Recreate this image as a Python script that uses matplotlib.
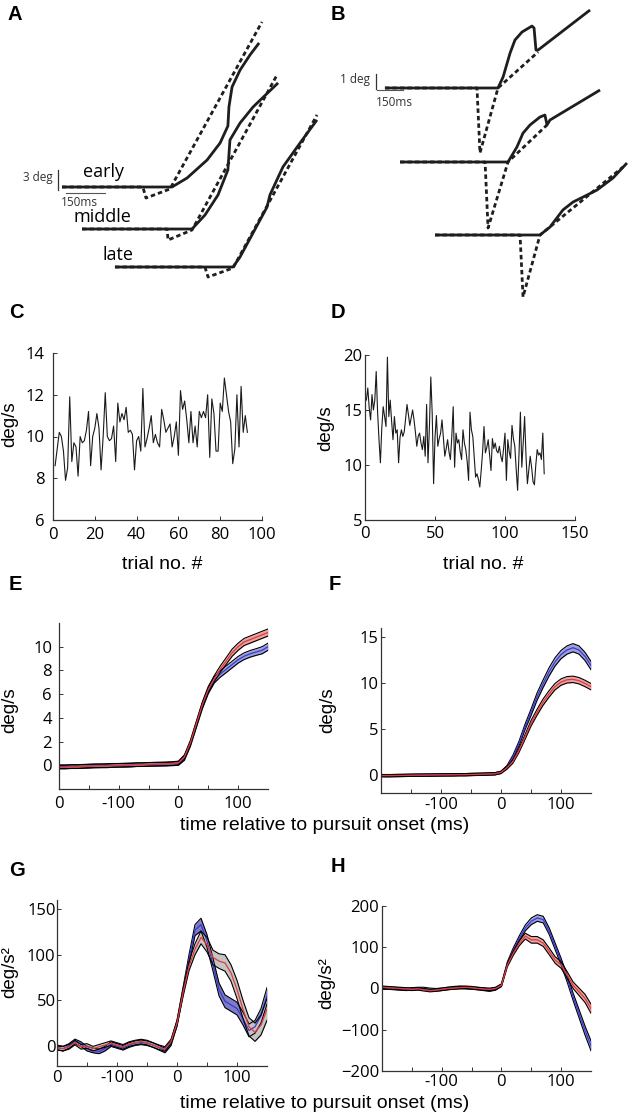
import numpy as np
import matplotlib
matplotlib.use('Agg')
import matplotlib.pyplot as plt

plt.rcParams['font.family'] = ['Liberation Sans', 'DejaVu Sans']

# ---------------- data ----------------
# Panel A: eye (solid) and target-like (dashed) position traces, ms / deg relative to pursuit onset
A_early_solid_t = [-423, 0, 58, 135, 185, 215, 219, 231, 262, 300, 335]
A_early_solid_d = [0, 0, 1.35, 4.05, 6.6, 9.15, 12.0, 15.0, 17.55, 19.8, 21.6]
A_early_dash_t = [-423, -112, -100, -8, 346]
A_early_dash_d = [0, 0, -1.65, -0.3, 24.75]
A_middle_solid_t = [-423, 0, 50, 100, 138, 146, 185, 235, 331]
A_middle_solid_d = [0, 0, 2.1, 5.1, 8.85, 13.35, 15.9, 18.3, 21.9]
A_middle_dash_t = [-423, -96, -92, 0, 327]
A_middle_dash_d = [0, 0, -1.65, -0.15, 23.1]
A_late_solid_t = [-454, 0, 27, 77, 131, 142, 192, 258, 323]
A_late_solid_d = [0, 0, 1.5, 5.1, 9.0, 10.8, 15.0, 18.6, 22.05]
A_late_dash_t = [-454, -108, -96, 0, 323]
A_late_dash_d = [0, 0, -1.5, -0.15, 22.8]
A_labels = ['early', 'middle', 'late']

# Panel B
B1_solid_t = [-646, 0, 29, 69, 97, 137, 194, 206, 217, 229, 526]
B1_solid_d = [0, 0, 0.73, 2.33, 3.2, 3.73, 4.13, 4.0, 2.53, 2.53, 5.2]
B1_dash_t = [-646, -120, -103, 0, 229]
B1_dash_d = [0, 0, -4.33, 0, 2.4]
B2_solid_t = [-617, 0, 51, 86, 126, 183, 211, 223, 240, 526]
B2_solid_d = [0, 0, 1.0, 1.93, 2.47, 3.0, 3.13, 2.47, 2.8, 4.8]
B2_dash_t = [-617, -131, -114, 0, 223]
B2_dash_d = [0, 0, -4.4, 0, 2.47]
B3_solid_t = [-600, 0, 57, 131, 189, 246, 326, 417, 497]
B3_solid_d = [0, 0, 0.53, 1.67, 2.2, 2.53, 3.0, 3.8, 4.8]
B3_dash_t = [-600, -114, -97, 0, 474]
B3_dash_d = [0, 0, -4.13, 0, 4.53]

# Panel C: peak velocity per trial
C_vel = [8.6, 9.4, 10.2, 10.0, 9.3, 7.9, 8.5, 11.9, 8.8, 9.7, 9.5, 8.1, 10.0, 9.7, 9.8,
         10.3, 11.2, 8.6, 10.0, 10.4, 11.1, 10.4, 8.4, 10.0, 12.1, 10.0, 9.8, 9.9, 10.5, 8.8,
         11.6, 10.7, 11.1, 10.8, 11.4, 10.2, 10.3, 10.1, 8.4, 9.8, 10.0, 9.3, 12.3, 9.5, 9.9,
         10.4, 11.0, 9.7, 10.1, 9.7, 9.5, 11.3, 10.8, 10.2, 10.4, 10.6, 9.5, 10.0, 10.7, 9.1,
         12.2, 11.3, 11.7, 10.8, 9.7, 11.2, 9.7, 10.5, 9.5, 11.2, 10.9, 11.2, 10.9, 12.0, 9.0,
         11.8, 11.1, 9.3, 9.3, 11.6, 11.2, 12.8, 12.0, 11.2, 10.7, 8.7, 9.4, 12.0, 9.5, 12.4,
         10.2, 11.0, 10.2]
# Panel D
D_vel = [15.9, 17.0, 15.2, 14.1, 16.4, 15.0, 15.9, 18.5, 14.8, 12.3, 10.2, 13.4, 15.3, 14.4, 13.5,
         19.8, 14.4, 15.9, 14.0, 12.3, 14.4, 12.9, 13.2, 10.2, 12.5, 13.2, 12.6, 13.0, 14.2, 15.5,
         14.6, 13.6, 14.3, 15.0, 14.1, 13.0, 11.7, 12.6, 12.9, 12.0, 11.4, 12.6, 10.8, 15.5, 10.2,
         13.4, 18.0, 14.7, 8.3, 12.5, 14.5, 11.7, 12.4, 12.9, 14.1, 12.5, 10.8, 11.5, 12.3, 11.2,
         10.5, 12.6, 15.3, 9.8, 12.9, 12.0, 12.3, 11.2, 10.5, 13.2, 12.0, 11.4, 10.3, 8.6, 14.8,
         13.2, 12.6, 10.8, 8.9, 9.2, 8.7, 8.0, 9.5, 11.2, 13.5, 11.1, 11.6, 12.3, 10.9, 9.5,
         12.4, 11.5, 12.0, 11.3, 11.1, 11.7, 10.8, 10.3, 11.5, 12.9, 8.6, 12.3, 11.2, 10.6, 13.6,
         12.4, 11.7, 9.6, 7.7, 11.0, 14.8, 9.8, 12.0, 14.4, 10.8, 8.3, 9.6, 10.8, 9.8, 8.5,
         8.2, 10.0, 11.4, 10.9, 11.1, 10.5, 12.9, 9.2]

# Panels E-H: time (ms) relative to pursuit onset
t_ms = [-200, -190, -180, -170, -160, -150, -140, -130, -120, -110, -100, -90, -80, -70, -60,
        -50, -40, -30, -20, -10, 0, 10, 20, 30, 40, 50, 60, 70, 80, 90, 100, 110, 120, 130, 140, 150]

E_red = [-0.15, -0.15, -0.12, -0.12, -0.1, -0.08, -0.05, -0.05, -0.05, -0.02, 0.0, 0.0, 0.02, 0.05,
         0.05, 0.08, 0.1, 0.1, 0.12, 0.15, 0.2, 0.7, 1.9, 3.5, 5.1, 6.4, 7.3, 8.1, 8.8, 9.5, 10.0,
         10.4, 10.6, 10.8, 11.0, 11.2]
E_blue = [-0.12, -0.12, -0.1, -0.1, -0.08, -0.06, -0.05, -0.04, -0.02, 0.0, 0.0, 0.02, 0.03, 0.05,
          0.06, 0.08, 0.08, 0.1, 0.1, 0.12, 0.15, 0.6, 1.8, 3.4, 5.0, 6.3, 7.2, 7.7, 8.1, 8.5, 8.9,
          9.2, 9.4, 9.55, 9.7, 10.0]
E_red_se = [0.15] * 20 + [0.15, 0.18, 0.2, 0.22, 0.24, 0.25, 0.26, 0.27, 0.28, 0.3, 0.3, 0.3,
                          0.3, 0.3, 0.3, 0.3]
E_blue_se = [0.15] * 20 + [0.15, 0.18, 0.2, 0.22, 0.24, 0.25, 0.26, 0.27, 0.28, 0.28, 0.28,
                           0.28, 0.28, 0.28, 0.3, 0.3]

F_red = [-0.1, -0.1, -0.1, -0.08, -0.08, -0.06, -0.05, -0.05, -0.04, -0.03, -0.02, -0.02, -0.01,
         0.0, 0.0, 0.02, 0.03, 0.05, 0.08, 0.1, 0.25, 0.75, 1.45, 2.65, 4.1, 5.6, 6.8, 7.9, 8.8,
         9.6, 10.1, 10.35, 10.4, 10.25, 9.95, 9.6]
F_blue = [-0.1, -0.12, -0.1, -0.1, -0.08, -0.07, -0.06, -0.05, -0.05, -0.04, -0.03, -0.02, -0.02,
          0.0, 0.0, 0.02, 0.04, 0.05, 0.08, 0.1, 0.25, 0.85, 1.95, 3.4, 5.2, 6.8, 8.5, 9.9, 11.2,
          12.3, 13.1, 13.6, 13.85, 13.6, 12.9, 11.9]
F_red_se = [0.12] * 20 + [0.12, 0.15, 0.18, 0.22, 0.26, 0.3, 0.32, 0.34, 0.35, 0.35, 0.35, 0.35,
                          0.35, 0.35, 0.35, 0.35]
F_blue_se = [0.12] * 20 + [0.12, 0.15, 0.2, 0.25, 0.3, 0.35, 0.4, 0.42, 0.45, 0.45, 0.45, 0.45,
                           0.45, 0.45, 0.45, 0.45]

G_red = [-1.5, -3, -1, 3.7, -1, 0, -3, -1, 1, 3, 1, -1, 2, 3.7, 4.8, 3.7, 1, -1.5, -3.3, 4.8,
         25, 58, 87.5, 106, 119, 111, 97, 93, 91, 80, 62, 40, 21, 15, 23, 40]
G_blue = [-2, -3, 0, 5, 2, -3, -5, -6, -3, 2, 0, -2, 1, 3, 4, 3, 1, -2, -5, 3,
          25, 60, 95, 127, 133, 115, 89, 62, 49, 45, 41, 30, 17, 21, 33, 55]
G_red_se = [2.5] * 20 + [3, 4, 5, 6, 7, 8, 8, 8, 9, 9, 10, 10, 10, 10, 11, 12]
G_blue_se = [2.5] * 20 + [3, 4, 5, 6, 7, 7, 7, 7, 7, 7, 7, 7, 7, 7, 8, 9]

H_red = [3, 2, 1, 0, -1, -2, -1, -3, -5, -4, -2, 0, 1, 2, 3, 2, 0, -1, -2, 0,
         8, 57, 86, 110, 127, 118, 118, 110, 90, 69, 57, 33, 8, -8, -24, -49]
H_blue = [2, 1, 0, -1, -2, -1, 0, 0, -2, -3, -2, 0, 2, 3, 2, 1, 0, -2, -4, -1,
          8, 61, 94, 122, 147, 163, 171, 167, 139, 102, 65, 24, -20, -61, -102, -139]
H_red_se = [3] * 20 + [3, 4, 5, 6, 7, 8, 8, 8, 8, 8, 8, 8, 8, 9, 10, 11]
H_blue_se = [3] * 20 + [3, 4, 5, 6, 7, 8, 8, 8, 8, 8, 8, 8, 9, 10, 11, 12]

# ---------------- figure ----------------
W, H = 630, 1119
fig = plt.figure(figsize=(W / 100, H / 100), dpi=100)

ov = fig.add_axes([0, 0, 1, 1])
ov.set_xlim(0, W)
ov.set_ylim(H, 0)
ov.axis('off')

TRACE = '#1e1e1e'
DASH = (0, (1.6, 1.1))
SMALLFONT = ['Open Sans', 'DejaVu Sans']


def trace(t, d, x0, y0, sx, sy, dashed=False):
    x = x0 + np.asarray(t, float) * sx
    y = y0 - np.asarray(d, float) * sy
    ov.plot(x, y, color=TRACE, lw=2.0, ls=DASH if dashed else '-',
            solid_capstyle='butt', solid_joinstyle='round')


# Panel A (px per ms, px per deg from the scale bars)
ASX, ASY = 0.26, 6.67
for (st, sd, dt, dd, x0, y0) in [
        (A_early_solid_t, A_early_solid_d, A_early_dash_t, A_early_dash_d, 172, 187),
        (A_middle_solid_t, A_middle_solid_d, A_middle_dash_t, A_middle_dash_d, 192, 229),
        (A_late_solid_t, A_late_solid_d, A_late_dash_t, A_late_dash_d, 233, 267)]:
    trace(dt, dd, x0, y0, ASX, ASY, dashed=True)
    trace(st, sd, x0, y0, ASX, ASY)
for lab, (x, y) in zip(A_labels, [(103, 172), (102, 217), (118, 255)]):
    ov.text(x, y, lab, ha='center', va='center', fontsize=13, family=SMALLFONT)
ov.plot([58, 58], [170, 190], color='#333333', lw=0.9)
ov.plot([66, 66 + 150 * ASX], [193, 193], color='#555555', lw=0.8)
ov.text(53, 178, '3 deg', ha='right', va='center', fontsize=8.5, color='#333333', family=SMALLFONT)
ov.text(79, 202, '150ms', ha='center', va='center', fontsize=8.5, color='#333333', family=SMALLFONT)

# Panel B
BSX, BSY = 0.175, 15.0
for (st, sd, dt, dd, x0, y0) in [
        (B1_solid_t, B1_solid_d, B1_dash_t, B1_dash_d, 498, 88),
        (B2_solid_t, B2_solid_d, B2_dash_t, B2_dash_d, 508, 162),
        (B3_solid_t, B3_solid_d, B3_dash_t, B3_dash_d, 540, 235)]:
    trace(dt, dd, x0, y0, BSX, BSY, dashed=True)
    trace(st, sd, x0, y0, BSX, BSY)
ov.plot([376, 376], [74, 89], color='#333333', lw=0.9)
ov.plot([377, 377 + 150 * BSX], [90, 90], color='#555555', lw=0.8)
ov.text(370, 80, '1 deg', ha='right', va='center', fontsize=8.5, color='#333333', family=SMALLFONT)
ov.text(394, 103, '150ms', ha='center', va='center', fontsize=8.5, color='#333333', family=SMALLFONT)

# Panel letters
for lab, (x, y) in zip('ABCDEFGH', [(15, 15), (338, 14), (16, 313), (338, 312),
                                    (15, 585), (335, 585), (17, 870), (338, 867)]):
    ov.text(x, y, lab, ha='center', va='center', fontsize=14.5, fontweight='bold')


def ax_px(l, t, r, b):
    a = fig.add_axes([l / W, 1 - b / H, (r - l) / W, (b - t) / H])
    a.set_facecolor('none')
    for s in ['top', 'right']:
        a.spines[s].set_visible(False)
    for s in ['left', 'bottom']:
        a.spines[s].set_color('#333333')
        a.spines[s].set_linewidth(0.9)
    a.tick_params(direction='in', length=3, width=0.7, labelsize=12, color='#333333')
    a._px = (l, t, r, b)
    return a


def set_font(a):
    for lbl in a.get_xticklabels() + a.get_yticklabels():
        lbl.set_family(SMALLFONT)


def ylabel_at(a, text, x, y):
    l, t, r, b = a._px
    a.set_ylabel(text, fontsize=13.5)
    a.yaxis.set_label_coords((x - l) / (r - l), (b - y) / (b - t))


def xlabel_at(a, text, x, y):
    l, t, r, b = a._px
    a.set_xlabel(text, fontsize=14)
    a.xaxis.set_label_coords((x - l) / (r - l), (b - y) / (b - t))


# Panel C
axC = ax_px(53, 353, 262, 520)
axC.plot(np.arange(1, len(C_vel) + 1), C_vel, color='#1a1a1a', lw=0.8)
axC.set_xlim(0, 100)
axC.set_ylim(6, 14)
axC.set_xticks([0, 20, 40, 60, 80, 100])
axC.set_yticks([6, 8, 10, 12, 14])
axC.tick_params(axis='y', pad=6)
axC.tick_params(axis='x', pad=5)
set_font(axC)
ylabel_at(axC, 'deg/s', 18, 424)
xlabel_at(axC, 'trial no. #', 162, 556)

# Panel D
axD = ax_px(365, 355, 575, 520)
axD.plot(np.arange(1, len(D_vel) + 1), D_vel, color='#1a1a1a', lw=0.8)
axD.set_xlim(0, 150)
axD.set_ylim(5, 20)
axD.set_xticks([0, 50, 100, 150])
axD.set_yticks([5, 10, 15, 20])
axD.tick_params(axis='y', pad=2)
axD.tick_params(axis='x', pad=4)
set_font(axD)
ylabel_at(axD, 'deg/s', 334, 428)
xlabel_at(axD, 'trial no. #', 483, 556)


def band(a, m, se, line_c, fill_c):
    m = np.asarray(m, float)
    se = np.asarray(se, float)
    a.fill_between(t_ms, m - se, m + se, color=fill_c, lw=0)
    a.plot(t_ms, m + se, color='k', lw=0.8)
    a.plot(t_ms, m - se, color='k', lw=0.8)
    a.plot(t_ms, m, color=line_c, lw=0.9)


RED, BLUE = '#e03a3a', '#3a3ad0'
RED_F, BLUE_F = '#eaa2a2', '#9ca0dc'


def time_axis(a, labels, pad):
    a.set_xlim(-200, 150)
    a.set_xticks([-200, -100, 0, 100])
    a.set_xticklabels(labels)
    a.set_xticks([-150, -50, 50], minor=True)
    a.tick_params(which='minor', direction='in', length=3, width=0.7, color='#333333')
    a.tick_params(axis='x', pad=pad)


# Panel E
axE = ax_px(59, 623, 268, 789)
band(axE, E_blue, E_blue_se, BLUE, BLUE_F)
band(axE, E_red, E_red_se, RED, RED_F)
time_axis(axE, ['0', '-100', '0', '100'], 5)
axE.set_ylim(-2, 12)
axE.set_yticks([0, 2, 4, 6, 8, 10])
axE.tick_params(axis='y', pad=5)
set_font(axE)
ylabel_at(axE, 'deg/s', 18, 710)

# Panel F
axF = ax_px(381, 628, 591, 793)
band(axF, F_blue, F_blue_se, BLUE, BLUE_F)
band(axF, F_red, F_red_se, RED, RED_F)
time_axis(axF, ['', '-100', '0', '100'], 3)
axF.set_ylim(-2, 16)
axF.set_yticks([0, 5, 10, 15])
axF.tick_params(axis='y', pad=2)
set_font(axF)
ylabel_at(axF, 'deg/s', 336, 710)

fig.text(325 / W, 1 - 825 / H, 'time relative to pursuit onset (ms)', ha='center', va='center',
         fontsize=14)

# Panel G
axG = ax_px(57, 900, 267, 1066)
band(axG, G_blue, G_blue_se, BLUE, '#7c7cc8')
band(axG, G_red, G_red_se, RED, '#c4c4c4')
time_axis(axG, ['0', '-100', '0', '100'], 3)
axG.set_ylim(-22, 160)
axG.set_yticks([0, 50, 100, 150])
axG.tick_params(axis='y', pad=1)
set_font(axG)
ylabel_at(axG, 'deg/s²', 18, 972)

# Panel H
axH = ax_px(382, 906, 591, 1071)
band(axH, H_blue, H_blue_se, BLUE, BLUE_F)
band(axH, H_red, H_red_se, RED, RED_F)
time_axis(axH, ['', '-100', '0', '100'], 2)
axH.set_ylim(-200, 200)
axH.set_yticks([-200, -100, 0, 100, 200])
axH.set_yticklabels(['\u2212200', '\u2212100', '0', '100', '200'])
axH.tick_params(axis='y', pad=2)
set_font(axH)
ylabel_at(axH, 'deg/s²', 335, 983)

fig.text(325 / W, 1 - 1103 / H, 'time relative to pursuit onset (ms)', ha='center', va='center',
         fontsize=14)

fig.savefig('out.png', dpi=100)
